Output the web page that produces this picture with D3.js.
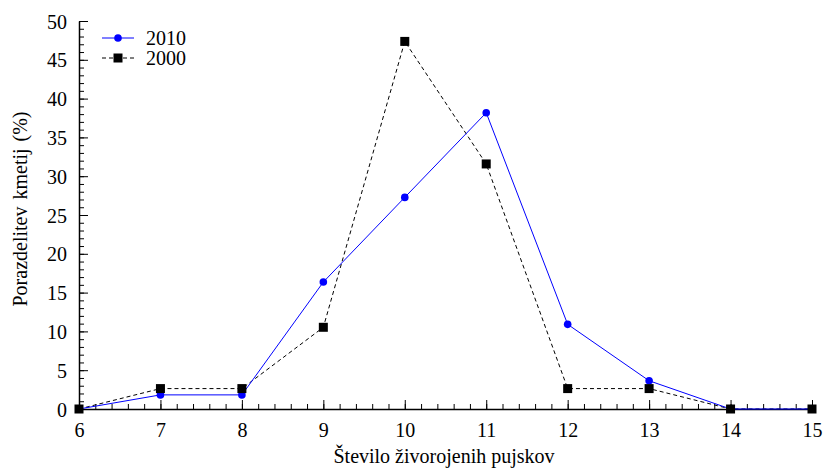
<!DOCTYPE html>
<html>
<head>
<meta charset="utf-8">
<script src="https://cdn.jsdelivr.net/npm/d3@7"></script>
<style>
  body { margin: 0; background: #fff; }
</style>
</head>
<body>
<div id="chart"></div>
<script>
// litter size distribution, share of sows (%)
var litterSize = [6, 7, 8, 9, 10, 11, 12, 13, 14, 15];
var share2010 = [0, 1.82, 1.82, 16.36, 27.27, 38.18, 10.91, 3.64, 0, 0];
var share2000 = [0, 2.63, 2.63, 10.53, 47.37, 31.58, 2.63, 2.63, 0, 0];
var yTicks = [0, 5, 10, 15, 20, 25, 30, 35, 40, 45, 50];

var serif = "'Liberation Serif', 'Times New Roman', Times, serif";
var canvasWidth = 827, canvasHeight = 470;
var margin = {top: 21, bottom: 61, left: 79, right: 15};
var width = canvasWidth - margin.left - margin.right;
var height = canvasHeight - margin.top - margin.bottom;

var svg = d3.select("#chart").append("svg")
    .attr("width", canvasWidth)
    .attr("height", canvasHeight)
    .attr("font-family", serif);

var g = svg.append("g")
    .attr("transform", "translate(" + margin.left + "," + margin.top + ")");

var x = d3.scaleLinear().domain([6, 15]).range([0, width]);
var y = d3.scaleLinear().domain([0, 50]).range([height, 0]);

// minor ticks first, then major ticks with labels (ticks point inward)
g.append("g")
    .attr("transform", "translate(0," + height + ")")
    .call(d3.axisBottom(x).tickValues(d3.range(6, 15.01, 0.2)).tickSize(-5).tickFormat(""))
    .call(function (a) { a.select(".domain").remove(); });
g.append("g")
    .call(d3.axisLeft(y).tickValues(d3.range(0, 50.01, 1)).tickSize(-5).tickFormat(""))
    .call(function (a) { a.select(".domain").remove(); });

var xAxis = g.append("g")
    .attr("transform", "translate(0," + height + ")")
    .call(d3.axisBottom(x).tickValues(litterSize).tickSize(-9).tickPadding(14).tickFormat(d3.format("d")).tickSizeOuter(0));
var yAxis = g.append("g")
    .call(d3.axisLeft(y).tickValues(yTicks).tickSize(-9).tickPadding(12).tickSizeOuter(0));

[xAxis, yAxis].forEach(function (a) {
    a.attr("font-family", serif).attr("font-size", 20);
    a.selectAll("text").attr("fill", "#000");
    a.selectAll("line").attr("stroke", "#000");
    a.select(".domain").attr("stroke", "#000").attr("stroke-width", 1.5);
});
yAxis.selectAll("text").attr("dy", "0.35em");

var line = d3.line()
    .x(function (d) { return x(d[0]); })
    .y(function (d) { return y(d[1]); });

var data2010 = litterSize.map(function (v, i) { return [v, share2010[i]]; });
var data2000 = litterSize.map(function (v, i) { return [v, share2000[i]]; });

g.append("path").datum(data2000)
    .attr("d", line).attr("fill", "none")
    .attr("stroke", "#000").attr("stroke-width", 1)
    .attr("stroke-dasharray", "4,3");
g.append("path").datum(data2010)
    .attr("d", line).attr("fill", "none")
    .attr("stroke", "#0000ff").attr("stroke-width", 1);

g.append("g").selectAll("circle")
    .data(data2010).enter().append("circle")
    .attr("cx", function (d) { return x(d[0]); })
    .attr("cy", function (d) { return y(d[1]); })
    .attr("r", 3.8)
    .attr("fill", "#0000ff");

g.append("g").selectAll("rect")
    .data(data2000).enter().append("rect")
    .attr("x", function (d) { return x(d[0]) - 4.5; })
    .attr("y", function (d) { return y(d[1]) - 4.5; })
    .attr("width", 9).attr("height", 9)
    .attr("fill", "#000");

// legend
var legend = svg.append("g").attr("transform", "translate(102,38)");
legend.append("line").attr("x1", 0).attr("x2", 32).attr("y1", 0).attr("y2", 0)
    .attr("stroke", "#0000ff");
legend.append("circle").attr("cx", 16).attr("cy", 0).attr("r", 3.8).attr("fill", "#0000ff");
legend.append("text").attr("x", 44).attr("y", 0).attr("dy", "0.35em")
    .attr("font-size", 20).text("2010");
legend.append("line").attr("x1", 0).attr("x2", 32).attr("y1", 20).attr("y2", 20)
    .attr("stroke", "#000").attr("stroke-dasharray", "4,3");
legend.append("rect").attr("x", 11.5).attr("y", 15.5).attr("width", 9).attr("height", 9).attr("fill", "#000");
legend.append("text").attr("x", 44).attr("y", 20).attr("dy", "0.35em")
    .attr("font-size", 20).text("2000");

// axis titles
svg.append("text")
    .attr("x", 444).attr("y", 463)
    .attr("text-anchor", "middle")
    .attr("font-size", 20)
    .text("Število živorojenih pujskov");
svg.append("text")
    .attr("transform", "translate(27,209) rotate(-90)")
    .attr("text-anchor", "middle")
    .attr("font-size", 20)
    .attr("word-spacing", 2)
    .text("Porazdelitev kmetij (%)");
</script>
</body>
</html>
